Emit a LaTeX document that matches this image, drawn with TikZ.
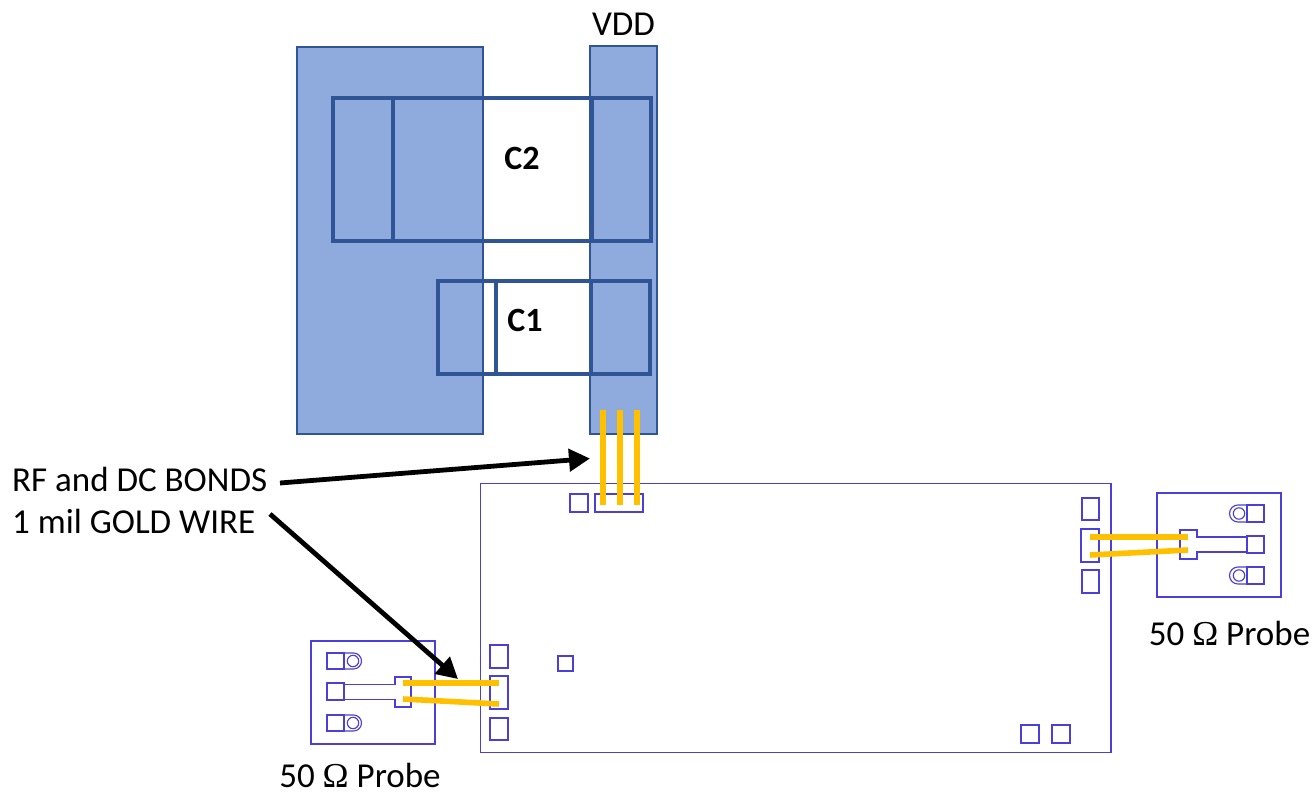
\documentclass[tikz,border=0pt]{standalone}
\usepackage{fontspec}
\setmainfont{Carlito}
\newfontfamily\omegafont{Liberation Serif}
\usetikzlibrary{arrows.meta}
\definecolor{metalfill}{HTML}{8FAADC}
\definecolor{metaledge}{HTML}{2F5597}
\definecolor{layout}{HTML}{4A3FD6}
\definecolor{gold}{HTML}{FFC000}
\tikzset{
  metal/.style={fill=metalfill,draw=metaledge,line width=1.3pt},
  capframe/.style={draw=metaledge,line width=4.6pt},
  outline/.style={draw=layout,line width=1.15pt},
  bondwire/.style={draw=gold,line width=5.6pt},
  callout/.style={draw=black,line width=4.8pt,-{Triangle[length=21pt,width=22pt]}},
  label/.style={font=\fontsize{35}{42}\selectfont,text=black,inner sep=0pt},
  caplabel/.style={font=\fontsize{34}{40}\selectfont\bfseries,text=black,inner sep=0pt}
}
\newcommand{\probeomega}{{\omegafont Ω}}
\begin{document}
\begin{tikzpicture}[x=1pt,y=-1pt]
\useasboundingbox (0,0) rectangle (1312,795);
% metal plates
\draw[metal] (297,47) rectangle (483,434);
\draw[metal] (590,46) rectangle (657,434);
% capacitors
\draw[capframe] (333,98) rectangle (651,241);
\draw[capframe] (393,98) -- (393,241);
\draw[capframe] (592,98) -- (592,241);
\draw[capframe] (438,281) rectangle (650,374);
\draw[capframe] (496,281) -- (496,374);
\draw[capframe] (591,281) -- (591,374);
% chip
\draw[outline] (480.5,483.5) rectangle (1111,752.5);
\draw[outline] (570,494) rectangle (588,512);
\draw[outline] (595,494) rectangle (643,512);
\draw[outline] (490,645) rectangle (508,668);
\draw[outline] (490,676) rectangle (508,709);
\draw[outline] (490,718) rectangle (508,740);
\draw[outline] (558,656) rectangle (573,671);
\draw[outline] (1021,725) rectangle (1039,743);
\draw[outline] (1052,725) rectangle (1070,743);
\draw[outline] (1082,498) rectangle (1099,520);
\draw[outline] (1081,529) rectangle (1099,562);
\draw[outline] (1082,570) rectangle (1099,593);
% left probe
\draw[outline] (311,641) rectangle (435,744);
\draw[outline] (327,653) rectangle (344,669);
\draw[outline] (344,653) -- (353.5,653) arc[start angle=-90,end angle=90,radius=8] -- (344,669);
\draw[outline] (353,661) circle[radius=5.7];
\draw[outline] (327,683) rectangle (344,700);
\draw[outline] (344,684.5) -- (395,684.5) -- (395,677) -- (411,677) -- (411,707) -- (395,707) -- (395,699.5) -- (344,699.5);
\draw[outline] (327,715) rectangle (344,731);
\draw[outline] (344,715) -- (353.5,715) arc[start angle=-90,end angle=90,radius=8] -- (344,731);
\draw[outline] (353,723) circle[radius=5.7];
% right probe
\draw[outline] (1157,493) rectangle (1281,597);
\draw[outline] (1247,505) rectangle (1264,522);
\draw[outline] (1247,505) -- (1238,505) arc[start angle=270,end angle=90,radius=8.5] -- (1247,522);
\draw[outline] (1239,513.5) circle[radius=5.7];
\draw[outline] (1247,536) rectangle (1264,553);
\draw[outline] (1247,537) -- (1197,537) -- (1197,530) -- (1180,530) -- (1180,559) -- (1197,559) -- (1197,552) -- (1247,552);
\draw[outline] (1247,567) rectangle (1264,584);
\draw[outline] (1247,567) -- (1238,567) arc[start angle=270,end angle=90,radius=8.5] -- (1247,584);
\draw[outline] (1239,575.5) circle[radius=5.7];
% bond wire ends
\coordinate (topa) at (602.7,410);   \coordinate (bota) at (602.7,505);
\coordinate (topb) at (619.7,410);   \coordinate (botb) at (619.7,505);
\coordinate (topc) at (636.7,410);   \coordinate (botc) at (636.7,505);
\coordinate (lpa) at (403,683);      \coordinate (lca) at (499,683);
\coordinate (lpb) at (403,699);      \coordinate (lcb) at (499,704);
\coordinate (rca) at (1090,537);     \coordinate (rpa) at (1188,537);
\coordinate (rcb) at (1090,555);     \coordinate (rpb) at (1188,550);
\draw[bondwire] (topa) -- (bota);
\draw[bondwire] (topb) -- (botb);
\draw[bondwire] (topc) -- (botc);
\draw[bondwire] (lpa) -- (lca);
\draw[bondwire] (lpb) -- (lcb);
\draw[bondwire] (rca) -- (rpa);
\draw[bondwire] (rcb) -- (rpb);
% labels
\node[label] (vdd) at (623.5,24) {VDD};
\node[caplabel] (c2) at (522,158) {C2};
\node[caplabel] (c1) at (525,320) {C1};
\node[label,anchor=base west] (bonds) at (12,491) {RF and DC BONDS};
\node[label,anchor=base west] (goldwire) at (12,533) {1 mil GOLD WIRE};
\node[label,anchor=base] (proberight) at (1229.5,645) {50 \probeomega{} Probe};
\node[label,anchor=base] (probeleft) at (360,787) {50 \probeomega{} Probe};
% callouts
\coordinate (calla) at (280,483);  \coordinate (tipa) at (590,458.5);
\coordinate (callb) at (270,514);  \coordinate (tipb) at (458,679);
\draw[callout] (calla) -- (tipa);
\draw[callout] (callb) -- (tipb);
\end{tikzpicture}
\end{document}
